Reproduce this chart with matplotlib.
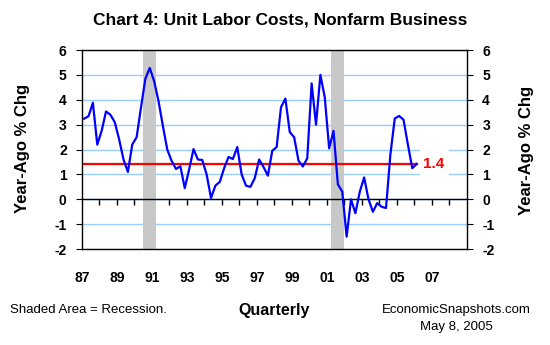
import numpy as np
import matplotlib.pyplot as plt
from matplotlib.patches import Rectangle

plt.rcParams['font.family'] = ['Liberation Sans', 'DejaVu Sans']
plt.rcParams['axes.unicode_minus'] = False

# Unit labor costs, nonfarm business, year-ago % change, quarterly from 1987Q1
start_year = 1987
ulc = [3.24, 3.34, 3.88, 2.20, 2.75, 3.53, 3.40, 3.10,   # 1987-88
       2.41, 1.60, 1.10, 2.20, 2.50, 3.70, 4.85, 5.28,   # 1989-90
       4.75, 3.95, 2.95, 2.00, 1.54, 1.22, 1.33, 0.45,   # 1991-92
       1.20, 2.02, 1.60, 1.58, 1.00, 0.05, 0.55, 0.70,   # 1993-94
       1.25, 1.70, 1.62, 2.10, 1.00, 0.55, 0.50, 0.85,   # 1995-96
       1.60, 1.30, 0.95, 1.95, 2.10, 3.70, 4.05, 2.70,   # 1997-98
       2.50, 1.55, 1.32, 1.65, 4.66, 3.00, 5.00, 4.10,   # 1999-00
       2.05, 2.75, 0.60, 0.31, -1.50, 0.00, -0.56, 0.30, # 2001-02
       0.88, 0.00, -0.50, -0.15, -0.30, -0.35, 1.80, 3.25,  # 2003-04
       3.35, 3.20, 2.20, 1.25, 1.42]                     # 2005-06
dates = start_year + 0.125 + 0.25 * np.arange(len(ulc))
latest = 1.4

recessions = [(1990.47, 1991.23), (2001.23, 2001.95)]
tick_years = list(range(1987, 2010))
tick_labels = [str(y)[2:] if (y % 2 == 1 and y < 2009) else '' for y in tick_years]

fig = plt.figure(figsize=(5.5, 3.45), dpi=100)
ax = fig.add_axes([0.149, 0.278, 0.70, 0.577])

for r0, r1 in recessions:
    ax.axvspan(r0, r1, color='#C8C8C8', lw=0, zorder=1)

ax.axhline(0, color='black', lw=1, zorder=1.2)
ax.plot(dates, [latest] * len(dates), color='#FF0000', lw=1.6, zorder=2)
ax.plot(dates, ulc, color='#0000FF', lw=1.6, zorder=3)

# white box behind the data label
ax.add_patch(Rectangle((2006.3, 0.85), 1.65, 1.3, facecolor='white',
                       edgecolor='none', zorder=1.5))
ax.text(2006.5, latest, '1.4', color='#FF0000', fontsize=11,
        fontweight='bold', va='center', ha='left', zorder=4)

ax.set_xlim(1987, 2009)
ax.set_ylim(-2, 6)
ax.set_yticks(range(-2, 7))
ax.set_axisbelow(True)
ax.yaxis.grid(True, color='#99CCFF', lw=1)

ax.set_xticks(tick_years)
ax.set_xticklabels(tick_labels, fontsize=10, fontweight='bold')
ax.tick_params(axis='x', length=0, pad=16)
ax.tick_params(axis='y', direction='out', length=4, pad=7,
               left=True, right=True, labelleft=True, labelright=True,
               labelsize=10)
for t in ax.yaxis.get_major_ticks():
    t.label1.set_fontweight('bold')
    t.label2.set_fontweight('bold')
for s in ax.spines.values():
    s.set_color('black')
    s.set_linewidth(1)

# year ticks hanging from the zero line
zax = ax.secondary_xaxis(0.25)
zax.set_xticks(tick_years[1:-1])
zax.set_xticklabels([])
zax.tick_params(axis='x', direction='out', length=4, width=1, color='black')
zax.spines['bottom'].set_visible(False)

fig.text(0.509, 0.942, 'Chart 4: Unit Labor Costs, Nonfarm Business',
         ha='center', va='center', fontsize=12.5, fontweight='bold')
fig.text(23 / 550, 1 - 148 / 345, 'Year-Ago % Chg', rotation=90,
         ha='center', va='center', fontsize=12, fontweight='bold')
fig.text(527 / 550, 1 - 150 / 345, 'Year-Ago % Chg', rotation=90,
         ha='center', va='center', fontsize=12, fontweight='bold')

fig.text(10 / 550, 1 - 310 / 345, 'Shaded Area = Recession.',
         ha='left', va='center', fontsize=9.5)
fig.text(274 / 550, 1 - 310 / 345, 'Quarterly',
         ha='center', va='center', fontsize=11.5, fontweight='bold')
fig.text(456 / 550, 1 - 310 / 345, 'EconomicSnapshots.com',
         ha='center', va='center', fontsize=9.5)
fig.text(456 / 550, 1 - 327 / 345, 'May 8, 2005',
         ha='center', va='center', fontsize=9.5)

fig.savefig('out.png', dpi=100)
